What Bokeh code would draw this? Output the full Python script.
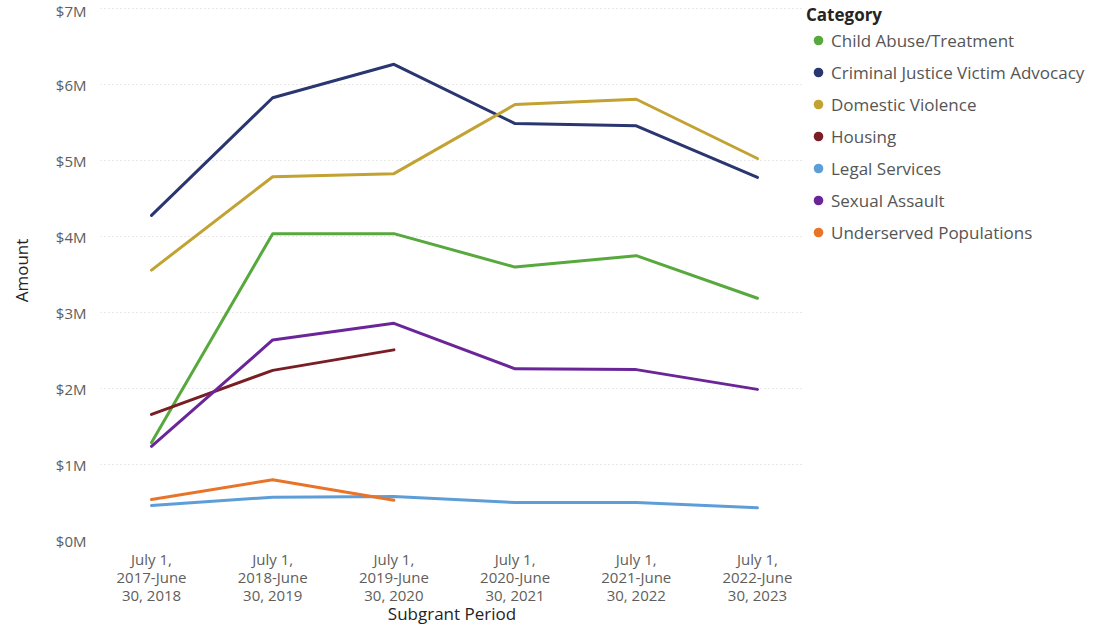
from bokeh.plotting import figure
from bokeh.models import FixedTicker, Legend, LegendItem, Range1d
from bokeh.layouts import row
from bokeh.embed import file_html
from bokeh.resources import INLINE

periods = ["July 1, 2017-June 30, 2018", "July 1, 2018-June 30, 2019",
           "July 1, 2019-June 30, 2020", "July 1, 2020-June 30, 2021",
           "July 1, 2021-June 30, 2022", "July 1, 2022-June 30, 2023"]
period_labels = ["July 1,\n2017-June\n30, 2018", "July 1,\n2018-June\n30, 2019",
                 "July 1,\n2019-June\n30, 2020", "July 1,\n2020-June\n30, 2021",
                 "July 1,\n2021-June\n30, 2022", "July 1,\n2022-June\n30, 2023"]

categories = ["Child Abuse/Treatment", "Criminal Justice Victim Advocacy",
              "Domestic Violence", "Housing", "Legal Services",
              "Sexual Assault", "Underserved Populations"]

child_abuse = [1.29e6, 4.04e6, 4.04e6, 3.60e6, 3.75e6, 3.19e6]
criminal_justice = [4.28e6, 5.83e6, 6.27e6, 5.49e6, 5.46e6, 4.78e6]
domestic_violence = [3.56e6, 4.79e6, 4.83e6, 5.74e6, 5.81e6, 5.03e6]
housing = [1.66e6, 2.24e6, 2.51e6]
legal_services = [0.46e6, 0.57e6, 0.58e6, 0.50e6, 0.50e6, 0.43e6]
sexual_assault = [1.24e6, 2.64e6, 2.86e6, 2.26e6, 2.25e6, 1.99e6]
underserved = [0.54e6, 0.80e6, 0.53e6]

y_ticks = [0, 1e6, 2e6, 3e6, 4e6, 5e6, 6e6, 7e6]
y_tick_labels = ["$0M", "$1M", "$2M", "$3M", "$4M", "$5M", "$6M", "$7M"]

series = [child_abuse, criminal_justice, domestic_violence, housing,
          legal_services, sexual_assault, underserved]
colors = ["#57A83D", "#2A3670", "#C1A232", "#7A1E26", "#5E9ED8", "#6A2699", "#E8742A"]

FONT = "Open Sans"
H = 628

# ---- main chart ----
p = figure(width=803, height=H, output_backend="svg", toolbar_location=None,
           x_range=Range1d(-0.421, 5.38), y_range=Range1d(0, 7.11e6),
           min_border_left=100, min_border_right=0, min_border_top=0,
           min_border_bottom=0)
p.outline_line_color = None
p.background_fill_color = "white"

for vals, col in zip(series, colors):
    xs = list(range(len(vals)))
    p.line(xs, vals, line_color=col, line_width=3, line_join="round", line_cap="round")

# x axis
p.xaxis.ticker = FixedTicker(ticks=list(range(len(periods))))
p.xaxis.major_label_overrides = {i: lab for i, lab in enumerate(period_labels)}
p.xaxis.axis_label = "Subgrant Period"
p.xaxis.major_label_text_font = FONT
p.xaxis.major_label_text_font_size = "15px"
p.xaxis.major_label_text_color = "#605E5C"
p.xaxis.major_label_text_line_height = 0.92
p.xaxis.major_label_standoff = 8
p.xaxis.axis_label_standoff = -6
p.xaxis.axis_label_text_font = FONT
p.xaxis.axis_label_text_font_size = "17px"
p.xaxis.axis_label_text_font_style = "normal"
p.xaxis.axis_label_text_color = "#252423"

# y axis
p.yaxis.ticker = FixedTicker(ticks=y_ticks)
p.yaxis.major_label_overrides = {t: lab for t, lab in zip(y_ticks, y_tick_labels)}
p.yaxis.axis_label = "Amount"
p.yaxis.major_label_text_font = FONT
p.yaxis.major_label_text_font_size = "15px"
p.yaxis.major_label_text_color = "#605E5C"
p.yaxis.major_label_standoff = 14
p.yaxis.axis_label_standoff = 20
p.yaxis.axis_label_text_font = FONT
p.yaxis.axis_label_text_font_size = "17px"
p.yaxis.axis_label_text_font_style = "normal"
p.yaxis.axis_label_text_color = "#252423"

for ax in (p.xaxis, p.yaxis):
    ax.axis_line_color = None
    ax.major_tick_line_color = None
    ax.minor_tick_line_color = None
    ax.major_tick_out = 0
    ax.major_tick_in = 0

p.xgrid.grid_line_color = None
p.ygrid.grid_line_color = "#D0D0D0"
p.ygrid.grid_line_dash = "1 3"
p.ygrid.grid_line_width = 1

# ---- legend panel ----
lf = figure(width=283, height=H, output_backend="svg", toolbar_location=None,
            x_axis_type=None, y_axis_type=None, x_range=Range1d(0, 1),
            y_range=Range1d(0, 1), min_border=0)
lf.outline_line_color = None
lf.xgrid.visible = False
lf.ygrid.visible = False

items = []
for name, vals, col in zip(categories, series, colors):
    xs = list(range(len(vals)))
    r = lf.scatter(xs, vals, size=0, fill_color=col, line_color=None)
    items.append(LegendItem(label=name, renderers=[r]))

legend = Legend(items=items, title="Category", location="top_left",
                margin=3, padding=0, spacing=8,
                glyph_width=24, glyph_height=24, label_standoff=1,
                label_height=20, title_standoff=2,
                border_line_color=None, background_fill_alpha=0,
                label_text_font=FONT, label_text_font_size="17px",
                label_text_color="#555555",
                title_text_font=FONT, title_text_font_size="17px",
                title_text_font_style="bold", title_text_color="#252423")
lf.add_layout(legend, "center")

layout = row(p, lf, margin=(0, 0, -8, 0))
open("out.html", "w").write(file_html(layout, INLINE))
